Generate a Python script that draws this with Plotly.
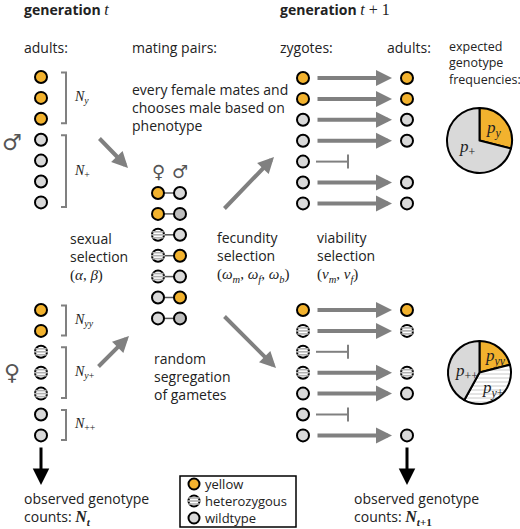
import plotly.graph_objects as go

# genotype codes: y = yellow, h = heterozygous, w = wildtype, d = wildtype (darker shade)
male_adults = ["y", "y", "y", "w", "w", "w", "w"]
female_adults = ["y", "y", "h", "h", "h", "w", "w"]
pair_females = ["y", "y", "h", "h", "h", "w", "w"]
pair_males = ["w", "d", "w", "y", "w", "y", "d"]
zygotes_male = ["y", "y", "w", "w", "w", "w", "w"]
survives_male = [True, True, True, True, False, True, True]
zygotes_female = ["y", "h", "h", "h", "w", "w", "w"]
survives_female = [True, True, False, True, True, False, True]

male_groups = ["<i>N</i><sub><i>y</i></sub>", "<i>N</i><sub>+</sub>"]
male_group_sizes = [3, 4]
female_groups = ["<i>N</i><sub><i>yy</i></sub>", "<i>N</i><sub><i>y</i>+</sub>", "<i>N</i><sub>++</sub>"]
female_group_sizes = [2, 3, 2]

pie_male_labels = ["<i>p</i><sub><i>y</i></sub>", "<i>p</i><sub>+</sub>"]
pie_male_values = [0.29, 0.71]
pie_female_labels = ["<i>p</i><sub><i>yy</i></sub>", "<i>p</i><sub><i>y</i>+</sub>", "<i>p</i><sub>++</sub>"]
pie_female_values = [0.21, 0.37, 0.42]

legend_codes = ["y", "h", "w"]
legend_labels = ["yellow", "heterozygous", "wildtype"]

W, H = 520, 529
FILL = {"y": "#f2b22e", "h": "white", "w": "#d9d9d9", "d": "#bdbdbd"}
ARROW = "#808080"
TXT = "#222222"
SANS = "Open Sans"
SERIF = "Liberation Serif"
STEP = 20.9


def rows(y0, n):
    return [y0 + i * STEP for i in range(n)]


def math(s, size=15):
    return f"<span style='font-family:{SERIF};font-size:{size}px'>{s}</span>"


fig = go.Figure()


def add_dots(xs, ys, codes, size=12):
    fig.add_trace(go.Scatter(
        x=xs, y=ys, mode="markers", hoverinfo="skip",
        marker=dict(size=size, color=[FILL[c] for c in codes],
                    line=dict(color="black", width=2)),
    ))
    hx = [x for x, c in zip(xs, codes) if c == "h"]
    hy = [y for y, c in zip(ys, codes) if c == "h"]
    for off, s in [(-3, 8), (0, 10), (3, 8)]:
        fig.add_trace(go.Scatter(
            x=hx, y=[y + off for y in hy], mode="markers", hoverinfo="skip",
            marker=dict(symbol="line-ew", size=s, line=dict(color="#b0b0b0", width=1.6)),
        ))


def add_brackets(ys, sizes, labels, x_tick=61, x_bar=66):
    bx, by = [], []
    i = 0
    for n, lab in zip(sizes, labels):
        top, bot = ys[i] - 4.5, ys[i + n - 1] + 4.5
        bx += [x_tick, x_bar, x_bar, x_tick, None]
        by += [top, top, bot, bot, None]
        fig.add_annotation(x=x_bar + 6, y=(top + bot) / 2, text=math(lab, 14), showarrow=False,
                           xanchor="left", yanchor="middle", font=dict(size=14, color=TXT))
        i += n
    fig.add_trace(go.Scatter(x=bx, y=by, mode="lines", hoverinfo="skip",
                             line=dict(color=ARROW, width=2)))


def add_selection(zx, ax, ys, codes, survives):
    bx, by = [], []
    for y, ok in zip(ys, survives):
        if ok:
            fig.add_annotation(x=ax - 15, y=y, ax=zx + 13, ay=y, axref="x", ayref="y",
                               text="", showarrow=True, arrowhead=2, arrowsize=0.8,
                               arrowwidth=4, arrowcolor=ARROW)
        else:
            bx += [zx + 13, zx + 45, None, zx + 45, zx + 45, None]
            by += [y, y, None, y - 7, y + 7, None]
    fig.add_trace(go.Scatter(x=bx, y=by, mode="lines", hoverinfo="skip",
                             line=dict(color=ARROW, width=2)))
    add_dots([zx] * len(ys), ys, codes)
    sx = [ax for ok in survives if ok]
    sy = [y for y, ok in zip(ys, survives) if ok]
    sc = [c for c, ok in zip(codes, survives) if ok]
    add_dots(sx, sy, sc)


# adults of generation t
male_y = rows(77, len(male_adults))
female_y = rows(310, len(female_adults))
add_brackets(male_y, male_group_sizes, male_groups)
add_brackets(female_y, female_group_sizes, female_groups)
add_dots([41] * len(male_adults), male_y, male_adults)
add_dots([41] * len(female_adults), female_y, female_adults)

# mating pairs
pair_y = rows(193, len(pair_females))
cx, cy = [], []
for y in pair_y:
    cx += [158, 180, None]
    cy += [y, y, None]
fig.add_trace(go.Scatter(x=cx, y=cy, mode="lines", hoverinfo="skip",
                         line=dict(color="#555555", width=1.5)))
add_dots([158] * len(pair_y), pair_y, pair_females)
add_dots([180] * len(pair_y), pair_y, pair_males)

# zygotes -> adults of generation t+1
add_selection(303, 407, rows(78, len(zygotes_male)), zygotes_male, survives_male)
add_selection(303, 407, rows(310, len(zygotes_female)), zygotes_female, survives_female)

# legend box
leg_y = [484, 501, 518]
add_dots([194] * len(legend_codes), leg_y, legend_codes, size=11)
for y, lab in zip(leg_y, legend_labels):
    fig.add_annotation(x=203, y=y, text=lab, showarrow=False, xanchor="left",
                       yanchor="middle", font=dict(size=13, color=TXT))
fig.add_shape(type="rect", x0=180, x1=296, y0=476, y1=527, xref="x", yref="y",
              line=dict(color="black", width=1.5))

# expected genotype frequency pies
fig.add_trace(go.Pie(
    values=pie_male_values, sort=False, direction="clockwise", textinfo="none",
    hoverinfo="skip", showlegend=False,
    marker=dict(colors=[FILL["y"], FILL["w"]], line=dict(color="black", width=2)),
    domain=dict(x=[447 / W, 512 / W], y=[1 - 173 / H, 1 - 108 / H]),
))
fig.add_trace(go.Pie(
    values=pie_female_values, sort=False, direction="clockwise", textinfo="none",
    hoverinfo="skip", showlegend=False,
    marker=dict(colors=[FILL["y"], "white", FILL["w"]], line=dict(color="black", width=2),
                pattern=dict(shape=["", "-", ""], fillmode="overlay", fgcolor="#b0b0b0",
                             size=4, solidity=0.35)),
    domain=dict(x=[448 / W, 511 / W], y=[1 - 404 / H, 1 - 341 / H]),
))
for (x, y), lab in zip([(494, 129), (467, 148)], pie_male_labels):
    fig.add_annotation(x=x, y=y, text=math(lab, 17), showarrow=False, font=dict(size=17, color=TXT))
for (x, y), lab in zip([(495, 357), (493, 389), (466, 372)], pie_female_labels):
    fig.add_annotation(x=x, y=y, text=math(lab, 17), showarrow=False, font=dict(size=17, color=TXT))

# arrows between stages
for (x0, y0, x1, y1) in [(98, 137, 128, 168), (97, 368, 129, 336),
                         (223, 210, 274, 157), (223, 315, 276, 368)]:
    fig.add_annotation(x=x1, y=y1, ax=x0, ay=y0, axref="x", ayref="y", text="",
                       showarrow=True, arrowhead=2, arrowsize=0.8, arrowwidth=4,
                       arrowcolor=ARROW)
for x in [41, 407]:
    fig.add_annotation(x=x, y=485, ax=x, ay=446, axref="x", ayref="y", text="",
                       showarrow=True, arrowhead=2, arrowsize=1.1, arrowwidth=3,
                       arrowcolor="black")

# sex symbols
for x, y, s, sz in [(12, 142, "♂", 22), (12, 372, "♀", 22), (158, 171, "♀", 18), (180, 171, "♂", 18)]:
    fig.add_annotation(x=x, y=y, text=s, showarrow=False,
                       font=dict(size=sz, color="#555555", family="DejaVu Sans"))

# text labels
texts = [
    (22, 9, "<b>generation</b> " + math("<i>t</i>", 16), 14),
    (278, 9, "<b>generation</b> " + math("<i>t</i> + 1", 16), 14),
    (22, 47, "adults:", 14),
    (130, 47, "mating pairs:", 14),
    (278, 47, "zygotes:", 14),
    (385, 47, "adults:", 14),
    (447, 63, "expected<br>genotype<br>frequencies:", 12.5),
    (130, 107, "every female mates and<br>chooses male based on<br>phenotype", 14),
    (68, 256, "sexual<br>selection<br>" + math("(<i>α</i>, <i>β</i>)"), 14),
    (215, 256, "fecundity<br>selection<br>" + math(
        "(<i>ω</i><sub><i>m</i></sub>, <i>ω</i><sub><i>f</i></sub>, <i>ω</i><sub><i>b</i></sub>)"), 14),
    (315, 256, "viability<br>selection<br>" + math("(<i>v</i><sub><i>m</i></sub>, <i>v</i><sub><i>f</i></sub>)"), 14),
    (152, 376, "random<br>segregation<br>of gametes", 14),
    (22, 508, "observed genotype<br>counts: " + math("<b><i>N</i></b><sub><b><i>t</i></b></sub>", 16), 14),
    (352, 508, "observed genotype<br>counts: " + math("<b><i>N</i></b><sub><b><i>t</i>+1</b></sub>", 16), 14),
]
for x, y, t, fs in texts:
    fig.add_annotation(x=x, y=y, text=t, showarrow=False, xanchor="left", yanchor="middle",
                       align="left", font=dict(size=fs, color=TXT))

fig.update_layout(
    width=W, height=H, margin=dict(l=0, r=0, t=0, b=0),
    paper_bgcolor="white", plot_bgcolor="white", showlegend=False,
    font=dict(family=SANS, size=14, color=TXT),
    xaxis=dict(range=[0, W], visible=False, fixedrange=True),
    yaxis=dict(range=[H, 0], visible=False, fixedrange=True),
)

fig.write_html("out.html", config={"displayModeBar": False},
               post_script="document.body.style.margin='0';")
